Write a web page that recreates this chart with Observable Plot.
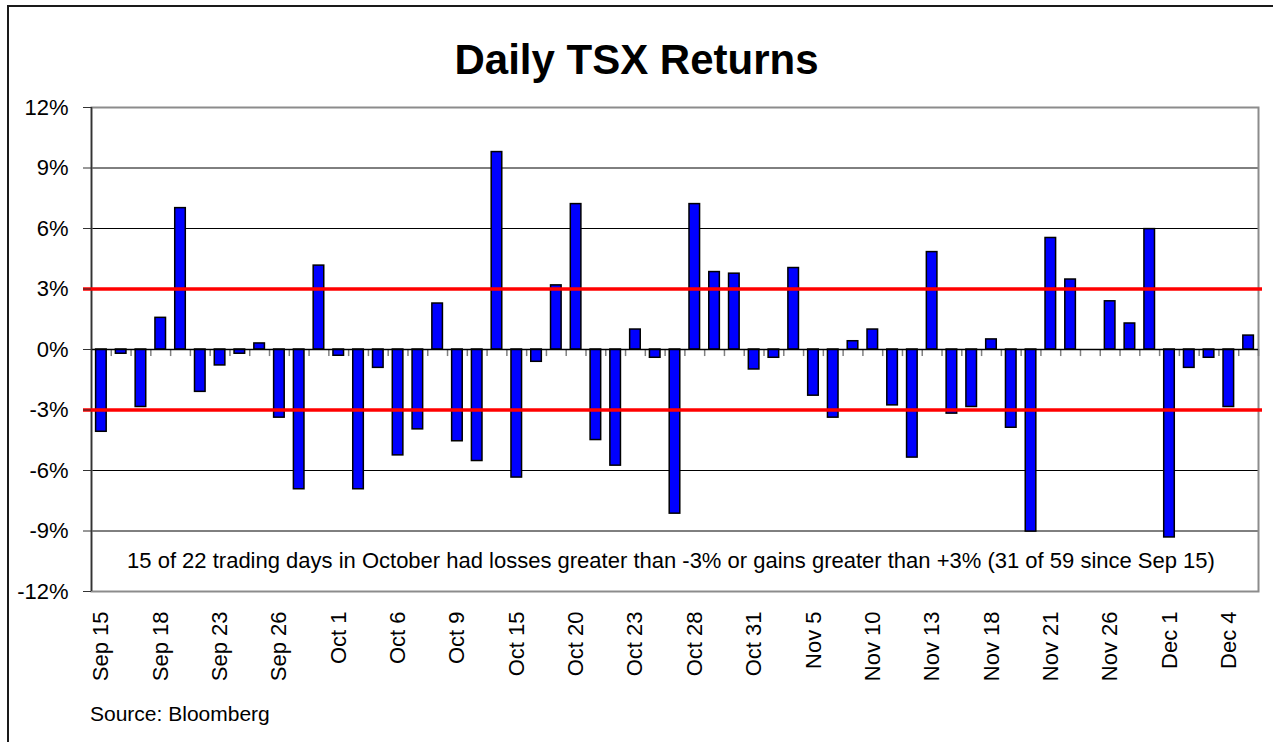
<!DOCTYPE html>
<html><head><meta charset="utf-8">
<script src="https://cdn.jsdelivr.net/npm/d3@7"></script>
<script src="https://cdn.jsdelivr.net/npm/@observablehq/plot@0.6"></script>
<style>
body{margin:0;background:#fff;}
#wrap{position:relative;width:1273px;height:742px;overflow:hidden;font-family:"Liberation Sans",Arial,Helvetica,sans-serif;color:#000;}
#border{position:absolute;left:7px;top:5px;width:1400px;height:900px;border:2px solid #1a1a1a;box-sizing:border-box;}
#title{position:absolute;left:0;width:1273px;top:39px;text-align:center;font-weight:bold;font-size:42px;line-height:42px;}
#source{position:absolute;left:90px;top:703px;font-size:21px;line-height:21px;}
#chart{position:absolute;left:0;top:0;}
</style></head>
<body>
<div id="wrap">
  <div id="border"></div>
  <div id="chart"></div>
  <div id="title"></div>
  <div id="source"></div>
</div>
<script>
const titleText = "Daily TSX Returns";
const sourceText = "Source: Bloomberg";
const noteText = "15 of 22 trading days in October had losses greater than -3% or gains greater than +3% (31 of 59 since Sep 15)";

const days = ["Sep 15","Sep 16","Sep 17","Sep 18","Sep 19","Sep 22","Sep 23","Sep 24","Sep 25","Sep 26","Sep 29","Sep 30",
"Oct 1","Oct 2","Oct 3","Oct 6","Oct 7","Oct 8","Oct 9","Oct 10","Oct 14","Oct 15","Oct 16","Oct 17","Oct 20","Oct 21","Oct 22","Oct 23","Oct 24","Oct 27","Oct 28","Oct 29","Oct 30","Oct 31",
"Nov 3","Nov 4","Nov 5","Nov 6","Nov 7","Nov 10","Nov 11","Nov 12","Nov 13","Nov 14","Nov 17","Nov 18","Nov 19","Nov 20","Nov 21","Nov 24","Nov 25","Nov 26","Nov 27","Nov 28",
"Dec 1","Dec 2","Dec 3","Dec 4","Dec 5"];

const returns = [-4.08,-0.21,-2.85,1.57,7.01,-2.10,-0.79,-0.21,0.30,-3.38,-6.93,4.16,
-0.31,-6.93,-0.91,-5.25,-3.96,2.28,-4.55,-5.53,9.79,-6.35,-0.61,3.18,7.21,-4.49,-5.76,0.99,-0.41,-8.14,7.21,3.84,3.76,-0.99,
-0.41,4.04,-2.29,-3.38,0.41,0.99,-2.77,-5.36,4.83,-3.18,-2.85,0.50,-3.88,-9.03,5.53,3.47,0,2.39,1.29,5.97,
-9.32,-0.91,-0.41,-2.85,0.69];

const labelDays = ["Sep 15","Sep 18","Sep 23","Sep 26","Oct 1","Oct 6","Oct 9","Oct 15","Oct 20","Oct 23","Oct 28","Oct 31","Nov 5","Nov 10","Nov 13","Nov 18","Nov 21","Nov 26","Dec 1","Dec 4"];
const yTicks = [-12,-9,-6,-3,0,3,6,9,12];
const gridLines = [-9,-6,-3,3,6,9];
const thresholds = [-3,3];

document.getElementById("title").textContent = titleText;
document.getElementById("source").textContent = sourceText;

const W = 1273, H = 742, mL = 91, mR = 15, mT = 107, mB = 151;
const bw = (W - mL - mR) / days.length;
const data = days.map((d, i) => ({day: d, ret: returns[i]}));

const chart = Plot.plot({
  width: W, height: H,
  marginLeft: mL, marginRight: mR, marginTop: mT, marginBottom: mB,
  style: {fontFamily: '"Liberation Sans", Arial, Helvetica, sans-serif', fontSize: "22px", background: "transparent", color: "#000", overflow: "visible"},
  x: {type: "band", domain: days, padding: 0, axis: null},
  y: {domain: [-12, 12], axis: null},
  marks: [
    Plot.ruleY(gridLines, {stroke: "#000", strokeWidth: 1}),
    Plot.frame({stroke: "#8c8c8c", strokeWidth: 2}),
    Plot.ruleX(days, {x: d => d, y1: 0, y2: -0.35, dx: bw / 2, stroke: "#808080", strokeWidth: 1.5}),
    Plot.barY(data, {x: "day", y: "ret", fill: "#0000ff", stroke: "#000", strokeWidth: 1.5, insetLeft: 4.6, insetRight: 4.6}),
    Plot.ruleY([0], {stroke: "#000", strokeWidth: 1.5}),
    Plot.ruleX([days[0]], {x: d => d, y1: -12, y2: 12, dx: -bw / 2, stroke: "#333", strokeWidth: 1.5}),
    Plot.ruleY(thresholds, {stroke: "#ff0000", strokeWidth: 3.5, insetLeft: -8, insetRight: -4}),
    Plot.axisY({ticks: yTicks, tickFormat: d => d + "%", tickSize: 8, tickPadding: 15, fontSize: 22, stroke: "#333", label: null}),
    Plot.axisX({ticks: labelDays, tickRotate: -90, tickSize: 0, tickPadding: 20, fontSize: 22, label: null}),
    Plot.text([noteText], {text: d => d, frameAnchor: "bottom", dy: -24, dx: -4, fontSize: 22, fill: "#000"})
  ]
});
document.getElementById("chart").appendChild(chart);
</script>
</body></html>
